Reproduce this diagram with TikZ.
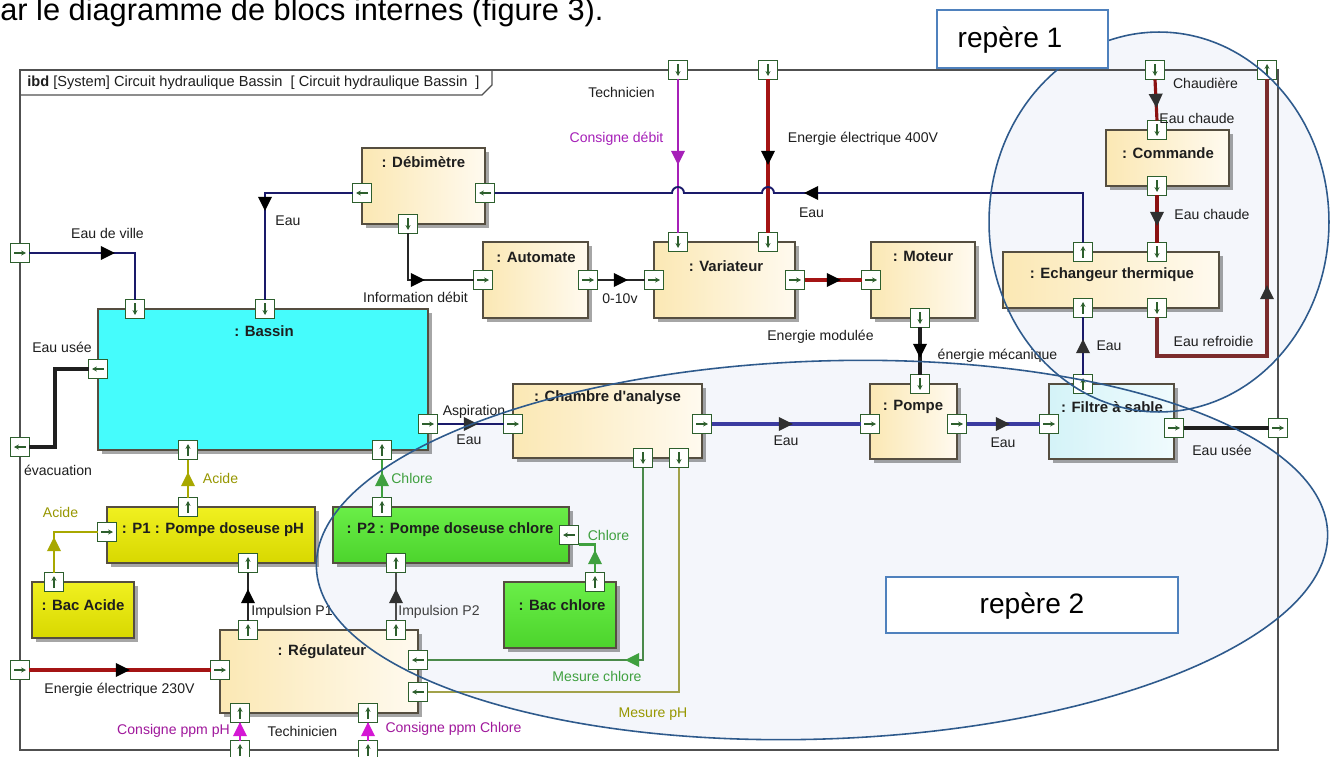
\documentclass[tikz,border=0pt]{standalone}
\usepackage{fontspec}
\setmainfont{Liberation Sans}
\usetikzlibrary{calc,decorations.markings,shadows,arrows.meta}
\definecolor{framec}{HTML}{505050}
\definecolor{portg}{HTML}{2D5F2D}
\definecolor{navy}{HTML}{1A1A6A}
\definecolor{bluew}{HTML}{3B3BA0}
\definecolor{rede}{HTML}{A41414}
\definecolor{redd}{HTML}{7C2C2C}
\definecolor{purp}{HTML}{A620B8}
\definecolor{magn}{HTML}{D418D4}
\definecolor{magtxt}{HTML}{A0189C}
\definecolor{olive}{HTML}{A8A800}
\definecolor{olivet}{HTML}{A2A24A}
\definecolor{grn}{HTML}{3FA03F}
\definecolor{grnt}{HTML}{4A8A4A}
\definecolor{blkb}{HTML}{554E40}
\definecolor{ytop}{HTML}{FBE8B4}
\definecolor{ybot}{HTML}{FFFAEF}
\definecolor{cyanb}{HTML}{45FCFC}
\definecolor{yela}{HTML}{F0F020}
\definecolor{yelb}{HTML}{D8D800}
\definecolor{grna}{HTML}{6AEE48}
\definecolor{grnb}{HTML}{4CD42C}
\definecolor{fila}{HTML}{D4F3F8}
\definecolor{filb}{HTML}{F0FBFD}
\definecolor{ellb}{HTML}{2E5A8C}
\definecolor{ellf}{HTML}{F4F6FB}
\definecolor{repb}{HTML}{4F81BD}
\definecolor{txt}{HTML}{1E1E1E}
\definecolor{arrg}{HTML}{303030}
\newcommand\mkblock[6]{\node[blk,#6,minimum width={(#4-#2)*0.02cm},minimum height={(#5-#3)*0.02cm}] (#1) at ({(#2+#4)/2},{(#3+#5)/2}) {};}
\newcommand\mkport[5]{\node[portbox] (#1) at (#2,#3) {};\draw[portarr] ($(#1.center)-(#4,#5)$) -- ($(#1.center)+(#4,#5)$);}
\newcommand\prtR[3]{\mkport{#1}{#2}{#3}{0.12cm}{0cm}}
\newcommand\prtL[3]{\mkport{#1}{#2}{#3}{-0.12cm}{0cm}}
\newcommand\prtU[3]{\mkport{#1}{#2}{#3}{0cm}{0.12cm}}
\newcommand\prtD[3]{\mkport{#1}{#2}{#3}{0cm}{-0.12cm}}
\begin{document}
\begin{tikzpicture}[x=0.02cm,y=-0.02cm,
  blk/.style={draw=blkb,line width=0.9pt,inner sep=0,outer sep=0,drop shadow={shadow xshift=2.2pt,shadow yshift=-2.2pt,fill=black,opacity=0.35}},
  blky/.style={left color=ytop,right color=ybot},
  blkcyan/.style={fill=cyanb},
  blkyel/.style={top color=yela,bottom color=yelb},
  blkgrn/.style={top color=grna,bottom color=grnb},
  blkfil/.style={left color=fila,right color=filb},
  portbox/.style={draw=portg,fill=white,line width=0.8pt,minimum size=0.38cm,inner sep=0,outer sep=0},
  portarr/.style={draw=portg,line width=0.6pt,-{Stealth[length=2.8pt,width=2.8pt]}},
  mk/.style 2 args={postaction={decorate,decoration={markings,mark=at position #1 with {\fill[#2] (4.5pt,0pt) -- (-3.5pt,4pt) -- (-3.5pt,-4pt) -- cycle;}}}},
  water/.style={draw=navy,line width=1.5pt},
  waterb/.style={draw=bluew,line width=1.8pt},
  watert/.style={draw=navy,line width=1.1pt},
  elec/.style={draw=rede,line width=2.2pt},
  hot/.style={draw=rede!85!black,line width=1.8pt},
  cold/.style={draw=redd,line width=1.8pt},
  heavy/.style={draw=black!88,line width=2.2pt},
  sig/.style={draw=black!85,line width=0.8pt},
  cons/.style={draw=purp,line width=1pt},
  consm/.style={draw=magn,line width=0.8pt},
  acid/.style={draw=olive,line width=1.5pt},
  chl/.style={draw=grn,line width=1.5pt},
  mes/.style={draw=grnt,line width=0.8pt},
  mesph/.style={draw=olivet,line width=0.8pt},
  lbl/.style={font=\fontsize{8}{9.6}\selectfont,inner sep=0,text=txt},
  ttl/.style={font=\fontsize{8.5}{10}\selectfont\bfseries,inner sep=0,text=txt},
  repbox/.style={draw=repb,line width=0.9pt,fill=white,inner sep=0},
  reptxt/.style={font=\fontsize{16}{19}\selectfont,inner sep=0,text=black},
  ellfill/.style={fill=ellf},
  ellline/.style={draw=ellb,line width=0.9pt}]
\useasboundingbox (0,0) rectangle (1336,757);
\fill[white] (0,0) rectangle (1336,757);
% annotation ellipse fills (beneath the diagram)
\path[ellfill,rotate around={2:(822,550)}] (822,550) ellipse [x radius=10.12cm,y radius=3.78cm];
\path[ellfill] (1159,222) ellipse [x radius=3.4cm,y radius=3.8cm];
\node[anchor=base west,inner sep=0,font=\fontsize{17.5}{21}\selectfont] (intro) at (0,21) {ar le diagramme de blocs internes (figure 3).};
% frame
\node[draw=framec,line width=1.1pt,minimum width={1258*0.02cm},minimum height={680*0.02cm},inner sep=0,outer sep=0] (frame) at (649,410) {};
\draw[draw=framec,line width=0.8pt] (frame.north west) ++(0,25) -- ++(462,0) -- ++(10,-10) -- ++(0,-15);
\node[anchor=west,inner sep=0,text=txt,font=\fontsize{8.3}{10}\selectfont] (hdr) at (27,83) {\textbf{ibd} [System] Circuit hydraulique Bassin \ [ Circuit hydraulique Bassin \ ]};
% blocks
\mkblock{deb}{362}{148}{485}{224}{blky}
\mkblock{auto}{483}{242}{588}{318}{blky}
\mkblock{var}{654}{242}{795}{318}{blky}
\mkblock{mot}{871}{242}{975}{318}{blky}
\mkblock{bas}{98}{309}{428}{450}{blkcyan}
\mkblock{cha}{513}{384}{702}{458}{blky}
\mkblock{pom}{870}{384}{957}{459}{blky}
\mkblock{fil}{1049}{384}{1174}{459}{blkfil}
\mkblock{ech}{1003}{252}{1219}{308}{blky}
\mkblock{com}{1106}{130}{1229}{186}{blky}
\mkblock{pone}{107}{507}{315}{563}{blkyel}
\mkblock{baca}{32}{582}{134}{638}{blkyel}
\mkblock{ptwo}{333}{507}{569}{563}{blkgrn}
\mkblock{bacc}{504}{582}{616}{648}{blkgrn}
\mkblock{reg}{220}{630}{418}{713}{blky}
% titles
\node[ttl] (deb-ttl) at (423.5,162) {: Débimètre};
\node[ttl] (auto-ttl) at (536,257) {: Automate};
\node[ttl] (var-ttl) at (726,266) {: Variateur};
\node[ttl] (mot-ttl) at (923,256) {: Moteur};
\node[ttl] (bas-ttl) at (264,331) {: Bassin};
\node[ttl] (cha-ttl) at (607.5,398) {: Chambre d\textquotesingle analyse};
\node[ttl] (pom-ttl) at (913,407) {: Pompe};
\node[ttl] (fil-ttl) at (1112,407) {: Filtre à sable};
\node[ttl] (ech-ttl) at (1112,275) {: Echangeur thermique};
\node[ttl] (com-ttl) at (1168,153) {: Commande};
\node[ttl] (pone-ttl) at (213,530) {: P1 : Pompe doseuse pH};
\node[ttl] (baca-ttl) at (83,605) {: Bac Acide};
\node[ttl] (ptwo-ttl) at (450,530) {: P2 : Pompe doseuse chlore};
\node[ttl] (bacc-ttl) at (562,605) {: Bac chlore};
\node[ttl] (reg-ttl) at (322,652) {: Régulateur};
% frame ports
\prtR{fev}{20}{253}
\prtL{fevac}{20}{447}
\prtR{fe230}{20}{670}
\prtD{ftech}{678}{70}
\prtD{fe400}{768}{70}
\prtD{fchaud}{1155}{70}
\prtU{frefr}{1267}{70}
\prtR{fusee}{1278}{428}
\prtU{fcph}{240}{750}
\prtU{fccl}{368}{750}
% block ports
\prtL{debl}{362}{193}
\prtL{debr}{485}{193}
\prtD{debb}{408}{224}
\prtR{autol}{483}{280}
\prtR{autor}{588}{280}
\prtD{vart1}{678}{242}
\prtD{vart2}{768}{242}
\prtR{varl}{654}{280}
\prtR{varr}{795}{280}
\prtR{motl}{871}{280}
\prtD{motb}{920}{318}
\prtD{bast1}{135}{309}
\prtD{bast2}{265}{309}
\prtL{basl}{98}{369}
\prtR{basr}{428}{424}
\prtU{basb1}{188}{450}
\prtU{basb2}{382}{450}
\prtR{chal}{513}{424}
\prtR{char}{702}{424}
\prtD{chab1}{643}{458}
\prtD{chab2}{679}{458}
\prtD{pomtp}{920}{384}
\prtR{poml}{870}{424}
\prtR{pomr}{957}{424}
\prtU{filtp}{1083}{384}
\prtR{filw}{1049}{424}
\prtR{filr}{1174}{428}
\prtU{echt1}{1083}{252}
\prtD{echt2}{1157}{252}
\prtU{echb1}{1083}{308}
\prtD{echb2}{1157}{308}
\prtD{comtp}{1157}{130}
\prtD{combt}{1157}{186}
\prtU{ponet}{188}{507}
\prtR{ponel}{107}{532}
\prtU{poneb}{248}{563}
\prtU{bacap}{54}{582}
\prtU{ptwot}{382}{507}
\prtU{ptwob}{396}{563}
\prtL{ptwor}{569}{535}
\prtU{baccp}{595}{582}
\prtU{regt1}{248}{630}
\prtU{regt2}{396}{630}
\prtR{regl}{220}{670}
\prtL{regr1}{418}{660}
\prtL{regr2}{418}{692}
\prtU{regb1}{240}{713}
\prtU{regb2}{368}{713}
% connectors
\draw[water,mk={1.55cm}{black}] (fev.east) -| (bast1.north);
\draw[water,mk={1.95cm}{black}] (debl.west) -| (bast2.north);
\draw[heavy] (basl.west) -- ++(-33.5,0) |- (fevac.east);
\draw[sig,mk={1.11cm}{black}] (debb.south) |- (autol.west);
\draw[sig,mk={0.45cm}{black}] (autor.east) -- (varl.west);
\draw[cons,mk={1.55cm}{purp}] (ftech.south) -- (vart1.north);
\draw[elec,mk={1.55cm}{black}] (fe400.south) -- (vart2.north);
\draw[watert,mk={6.41cm}{black}] (echt1.north) |- ($(vart2.north |- debr.east)+(6,0)$) arc[start angle=0,end angle=180,radius=0.12cm] -- ($(vart1.north |- debr.east)+(6,0)$) arc[start angle=0,end angle=180,radius=0.12cm] -- (debr.east);
\draw[elec,mk={0.57cm}{black}] (varr.east) -- (motl.west);
\draw[heavy,mk={0.45cm}{black}] (motb.south) -- (pomtp.north);
\draw[water,mk={0.65cm}{arrg}] (basr.east) -- (chal.west);
\draw[waterb,mk={1.47cm}{arrg}] (char.east) -- (poml.west);
\draw[waterb,mk={0.71cm}{arrg}] (pomr.east) -- (filw.west);
\draw[watert,mk={0.55cm}{arrg}] (filtp.north) -- (echb1.south);
\draw[heavy] (filr.east) -- (fusee.west);
\draw[hot,mk={0.41cm}{arrg}] (fchaud.south) -- (comtp.north);
\draw[hot,mk={0.45cm}{arrg}] (combt.south) -- (echt2.north);
\draw[cold,mk={4.23cm}{arrg}] (echb2.south) -- ++(0,38.5) -| (frefr.south);
\draw[acid,mk={0.55cm}{olive}] (bacap.north) |- (ponel.west);
\draw[acid,mk={0.35cm}{olive}] (ponet.north) -- (basb1.south);
\draw[chl,mk={0.35cm}{grn}] (ptwot.north) -- (basb2.south);
\draw[chl,mk={0.29cm}{grn}] (baccp.north) |- (ptwor.south east);
\draw[sig,mk={0.47cm}{black}] (regt1.north) -- (poneb.south);
\draw[sig,draw=black!70,mk={0.47cm}{arrg}] (regt2.north) -- (ptwob.south);
\draw[elec,mk={1.85cm}{black}] (fe230.east) -- (regl.west);
\draw[consm,mk={0.21cm}{magn}] (fcph.north) -- (regb1.south);
\draw[consm,mk={0.21cm}{magn}] (fccl.north) -- (regb2.south);
\draw[mes,mk={4.05cm}{grn}] (chab1.south) |- (regr1.east);
\draw[mesph] (chab2.south) |- (regr2.east);
% labels
\node[lbl] (l1) at (107.5,233) {Eau de ville};
\node[lbl] (l2) at (288,221) {Eau};
\node[lbl] (l3) at (415.5,297) {Information débit};
\node[lbl] (l4) at (621.5,92) {Technicien};
\node[lbl,text=purp] (l5) at (616.5,139) {Consigne débit};
\node[lbl] (l6) at (863,139) {Energie électrique 400V};
\node[lbl] (l7) at (811.5,213) {Eau};
\node[lbl] (l8) at (620,299) {0-10v};
\node[lbl] (l9) at (820.5,337) {Energie modulée};
\node[lbl] (l10) at (997.5,356) {énergie mécanique};
\node[lbl] (l11) at (62,347) {Eau usée};
\node[lbl] (l12) at (58,470) {évacuation};
\node[lbl] (l13) at (474,412) {Aspiration};
\node[lbl] (l14) at (469,440) {Eau};
\node[lbl] (l15) at (786,441) {Eau};
\node[lbl] (l16) at (1003,443) {Eau};
\node[lbl] (l17) at (1222,450) {Eau usée};
\node[lbl] (l18) at (1109,346) {Eau};
\node[lbl] (l19) at (1213.5,341) {Eau refroidie};
\node[lbl] (l20) at (1205.5,83) {Chaudière};
\node[lbl] (l21) at (1197,118) {Eau chaude};
\node[lbl] (l22) at (1212,214) {Eau chaude};
\node[lbl,text=olive!90!black] (l23) at (220.5,478) {Acide};
\node[lbl,text=grn] (l24) at (412,478) {Chlore};
\node[lbl,text=olive!90!black] (l25) at (60.5,512) {Acide};
\node[lbl,text=grn] (l26) at (608.5,535) {Chlore};
\node[lbl] (l27) at (292,612) {Impulsion P1};
\node[lbl,text=black!75] (l28) at (439,612) {Impulsion P2};
\node[lbl] (l29) at (119.5,690) {Energie électrique 230V};
\node[lbl,text=magtxt] (l30) at (173.5,731) {Consigne ppm pH};
\node[lbl] (l31) at (302.5,731) {Techinicien};
\node[lbl,text=magtxt] (l32) at (453.5,729) {Consigne ppm Chlore};
\node[lbl,text=grn] (l33) at (597,676) {Mesure chlore};
\node[lbl,text=olive!90!black] (l34) at (653,714) {Mesure pH};
% annotation outlines
\draw[ellline,rotate around={2:(822,550)}] (822,550) ellipse [x radius=10.12cm,y radius=3.78cm];
\draw[ellline] (1159,222) ellipse [x radius=3.4cm,y radius=3.8cm];
\node[repbox,minimum width={171*0.02cm},minimum height={58*0.02cm}] (rep1) at (1022.5,39) {};
\node[reptxt] (rep1t) at (1010,40) {repère 1};
\node[repbox,minimum width={292*0.02cm},minimum height={56*0.02cm}] (rep2) at (1032,605) {};
\node[reptxt] (rep2t) at (1032,606) {repère 2};
\end{tikzpicture}
\end{document}
